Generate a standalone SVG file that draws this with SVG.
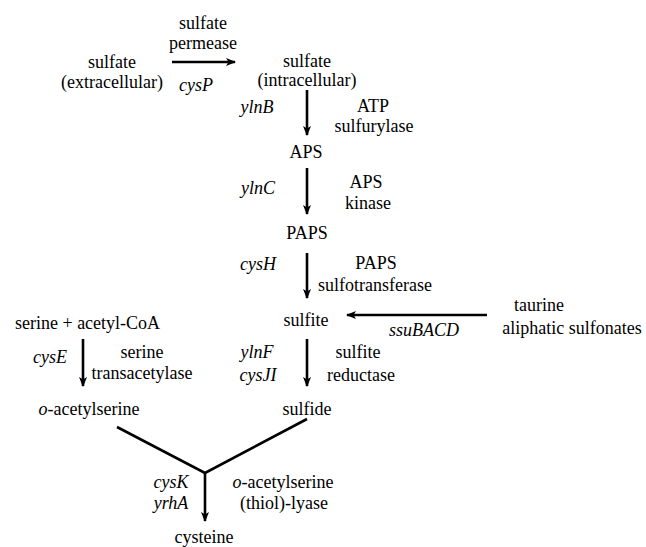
<svg xmlns="http://www.w3.org/2000/svg" width="646" height="547" viewBox="0 0 646 547">
<style>
text{font-family:"Liberation Serif","Times New Roman",serif;font-size:18px;fill:#000;text-anchor:middle}
.i{font-style:italic}
.l{text-anchor:start}
.c{stroke:#000;stroke-width:2.6;fill:none}
.a{marker-end:url(#ah)}
</style>
<defs>
<marker id="ah" viewBox="0 0 10 8" refX="9" refY="4" markerWidth="10" markerHeight="8" markerUnits="userSpaceOnUse" orient="auto">
<path d="M0,0 L10,4 L0,8 L2.5,4 Z" fill="#000"/>
</marker>
</defs>
<rect width="646" height="547" fill="#fff"/>
<g id="connectors">
<line class="c a" x1="172" y1="62" x2="235" y2="62"/>
<line class="c a" x1="307" y1="90" x2="307" y2="135"/>
<line class="c a" x1="307" y1="168" x2="307" y2="214"/>
<line class="c a" x1="307" y1="253" x2="307" y2="298"/>
<line class="c a" x1="487" y1="315" x2="347" y2="315"/>
<line class="c a" x1="83" y1="339" x2="83" y2="386"/>
<line class="c a" x1="307" y1="339" x2="307" y2="386"/>
<polyline class="c" points="117,427 205,473 307,419"/>
<line class="c a" x1="205" y1="472" x2="205" y2="521"/>
</g>
<g id="sulfate_ext"><text x="112" y="68">sulfate</text><text x="112" y="88">(extracellular)</text></g>
<g id="permease"><text x="203" y="29">sulfate</text><text x="203" y="49">permease</text><text class="i" x="196" y="91">cysP</text></g>
<g id="sulfate_int"><text x="307" y="67">sulfate</text><text x="307" y="86">(intracellular)</text></g>
<g id="atp_sulfurylase"><text class="i" x="257" y="113">ylnB</text><text x="373" y="112">ATP</text><text x="374" y="132">sulfurylase</text></g>
<g id="aps"><text x="306" y="158">APS</text></g>
<g id="aps_kinase"><text class="i" x="258" y="194">ylnC</text><text x="366" y="188">APS</text><text x="368" y="209">kinase</text></g>
<g id="paps"><text x="307" y="239">PAPS</text></g>
<g id="paps_st"><text class="i" x="258" y="270">cysH</text><text x="376" y="269">PAPS</text><text x="375" y="291">sulfotransferase</text></g>
<g id="sulfite"><text x="306" y="326">sulfite</text></g>
<g id="taurine"><text x="539" y="311">taurine</text><text x="572" y="334">aliphatic sulfonates</text><text class="i" x="424" y="336">ssuBACD</text></g>
<g id="serine"><text class="l" x="15" y="329">serine + acetyl-CoA</text></g>
<g id="serine_ta"><text class="i" x="50" y="363">cysE</text><text x="142" y="358">serine</text><text x="142" y="379">transacetylase</text></g>
<g id="oas"><text x="89" y="415"><tspan font-style="italic">o</tspan>-acetylserine</text></g>
<g id="sulfite_red"><text class="i" x="257" y="358">ylnF</text><text class="i" x="258" y="381">cysJI</text><text x="358" y="358">sulfite</text><text x="361" y="381">reductase</text></g>
<g id="sulfide"><text x="307" y="415">sulfide</text></g>
<g id="oas_lyase"><text class="i" x="171" y="488">cysK</text><text class="i" x="171" y="509">yrhA</text><text x="283" y="488"><tspan font-style="italic">o</tspan>-acetylserine</text><text x="284" y="509">(thiol)-lyase</text></g>
<g id="cysteine"><text x="204" y="543">cysteine</text></g>
</svg>
